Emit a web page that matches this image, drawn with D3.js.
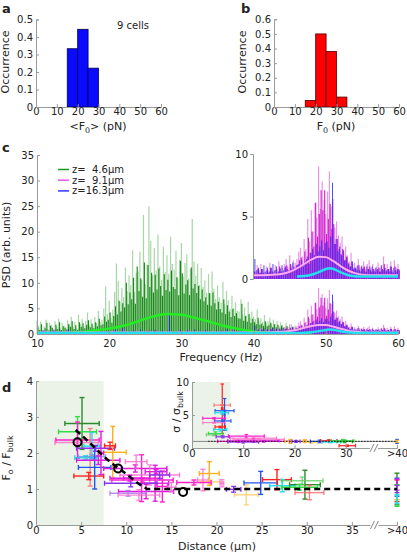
<!DOCTYPE html>
<html><head><meta charset="utf-8">
<script src="https://cdn.jsdelivr.net/npm/d3@7"></script>
<style>
html,body{margin:0;padding:0;background:#fff;}
text{font-family:"DejaVu Sans",Verdana,sans-serif;}
</style></head>
<body>
<svg id="chart" width="407" height="552"></svg>
<script>
// ================= DATA =================
// Panel a: histogram of <F0> over 9 cells
const histA_binStart = [15, 20, 25];
const histA_occurrence = [0.333, 0.444, 0.222];
// Panel b: histogram of F0
const histB_binStart = [15, 20, 25, 30];
const histB_occurrence = [0.045, 0.5, 0.38, 0.068];
const histBinWidth = 5;
const histXTicks = [0, 10, 20, 30, 40, 50, 60];
const histA_yTicks = [0, 0.1, 0.2, 0.3, 0.4, 0.5];
const histB_yTicks = [0, 0.1, 0.2, 0.3, 0.4, 0.5, 0.6];

// Panel c: power spectral densities
const psdLegend = ["z=\u00a0\u00a04.6\u00b5m", "z=\u00a0\u00a09.1\u00b5m", "z=16.3\u00b5m"];
const greenStartHz = 10, psdStepHz = 0.25;
const greenPsdLight = [
 2.6,1.2,2.4,0.8, 1.5,2.8,1.0,2.2, 1.8,0.9,2.5,1.4, 3.0,1.1,2.2,1.6, 1.3,2.7,1.9,3.3,
 1.4,2.4,1.1,3.8, 2.0,3.0,1.5,2.6, 4.2,1.8,2.9,1.6, 3.3,2.1,4.5,2.4, 2.8,5.0,9.3,3.9,
 6.5,3.2,4.8,8.2, 13.8,10.4,6.3,9.0, 7.2,13.0,8.4,11.5, 9.6,16.4,8.2,12.0, 12.3,16.1,10.5,23.3,
 9.8,13.6,25.0,18.2, 11.5,16.8,12.4,19.5, 13.2,10.6,17.0,12.1, 15.4,11.8,19.0,13.7, 12.6,16.3,10.9,14.5,
 17.8,11.2,13.9,15.6, 10.8,12.7,22.5,14.2, 11.4,13.8,9.6,12.9, 9.2,10.5,8.1,11.7, 7.9,12.2,8.8,6.9,
 9.5,7.2,6.1,10.2, 5.8,8.4,6.6,4.9, 7.5,5.1,6.2,4.6, 4.4,6.8,3.8,5.2, 3.6,6.3,3.2,4.4,
 3.4,2.9,4.8,2.6, 3.1,2.4,3.7,2.2, 2.5,3.2,2.0,2.8, 1.9,2.6,1.6,2.3, 1.8,1.4,2.2,1.5,
 1.3,1.9,1.1,1.6, 1.2,0.9,1.4,1.0, 0.9,1.1,0.8,0.7, 0.6];
const greenPsdDark = [
 1.5,0.8,1.9,0.6, 1.1,2.2,0.7,1.6, 1.2,0.6,1.8,1.0, 2.3,0.8,1.5,1.2, 0.9,1.9,1.4,2.5,
 1.0,1.7,0.8,2.3, 1.4,2.1,1.1,1.8, 2.7,1.3,2.0,1.1, 2.3,1.5,3.0,1.7, 1.9,3.4,2.4,2.8,
 4.2,2.2,3.5,5.4, 3.8,6.5,4.4,6.0, 5.2,10.0,5.8,8.1, 6.8,11.0,5.9,13.2, 8.4,10.9,7.3,14.0,
 7.0,13.5,9.2,12.0, 8.1,11.6,8.7,12.8, 9.4,7.5,11.7,8.6, 10.6,8.3,12.4,9.2, 8.8,11.1,7.6,14.3,
 11.9,7.9,9.7,10.5, 7.6,13.0,8.9,9.8, 8.0,9.4,6.8,8.7, 6.4,7.2,5.7,8.0, 5.5,8.1,6.0,4.8,
 6.3,4.9,4.2,6.8, 3.9,5.6,4.4,3.3, 4.9,3.5,4.1,3.1, 3.0,5.9,2.6,3.5, 2.4,3.9,2.2,3.0,
 2.3,1.9,3.2,1.8, 2.0,1.6,2.5,1.5, 1.7,2.2,1.3,1.9, 1.3,1.8,1.1,1.6, 1.2,0.9,1.5,1.0,
 0.9,1.3,0.7,1.1, 0.8,0.6,0.9,0.7, 0.6,0.7,0.5,0.5, 0.4];
const hiStartHz = 40;
const magentaPsdLight = [
 0.9,0.6,1.1,0.7, 1.2,0.8,0.6,1.0, 0.7,1.3,0.9,0.6, 1.1,0.8,1.4,0.9, 0.9,1.2,1.6,1.0,
 1.9,1.1,1.5,1.3, 1.6,2.2,2.5,1.8, 3.2,2.4,4.8,3.0, 5.5,3.8,6.1,4.9, 9.0,5.6,7.8,6.3,
 5.2,7.0,8.6,5.8, 6.4,4.1,4.6,3.5, 2.9,3.4,2.2,2.6, 1.9,1.4,2.1,1.2, 1.3,1.0,1.6,0.9,
 1.1,1.4,0.8,1.2, 1.5,0.9,1.2,0.8, 1.0,1.3,0.9,1.1, 1.8,0.9,1.2,0.8, 1.4,0.7,1.5,0.9, 1.2];
const magentaPsdDark = [
 0.6,0.4,0.8,0.5, 0.8,0.5,0.4,0.7, 0.5,0.9,0.6,0.4, 0.7,0.5,1.0,0.6, 0.6,0.9,1.1,0.7,
 1.2,0.8,1.0,0.9, 1.1,1.5,1.7,1.2, 2.2,1.6,3.3,2.1, 3.8,2.6,6.1,3.4, 5.2,7.1,5.5,7.1,
 3.6,4.8,6.0,4.0, 4.4,2.8,3.2,2.4, 2.0,2.4,1.5,1.8, 1.3,1.0,1.4,0.8, 0.9,0.7,1.1,0.6,
 0.8,1.0,0.6,0.8, 1.0,0.6,0.8,0.6, 0.7,0.9,0.6,0.8, 1.2,0.6,0.8,0.6, 1.0,0.5,1.0,0.6, 0.8];
const bluePsd = [
 1.6,0.7,0.9,0.5, 0.8,1.1,0.6,0.9, 0.6,0.9,1.2,0.7, 1.0,0.6,0.8,1.1, 0.7,1.0,0.8,0.6,
 0.9,1.3,0.7,1.1, 1.2,0.9,1.5,1.0, 1.4,1.8,1.2,2.1, 2.4,1.9,2.8,2.2, 2.6,3.1,2.3,2.9,
 3.0,2.5,3.4,7.7, 2.8,3.2,2.2,2.6, 1.9,2.3,1.5,1.7, 1.2,1.0,1.4,0.9, 0.8,1.1,0.7,1.0,
 0.9,0.6,1.0,0.8, 0.7,1.0,0.6,0.9, 0.8,0.6,1.1,0.7, 0.9,0.7,0.8,1.0, 0.6,0.9,0.7,0.8, 0.7];
const lowStartHz = 10, lowStepHz = 0.5;
const magentaPsdLow = [
 0.5,0.3,0.7,0.4,0.6,0.9,0.3,0.5,0.8,0.4, 0.6,0.3,0.7,0.5,0.9,0.4,0.6,0.3,0.8,0.5,
 0.4,0.7,0.3,0.6,1.0,0.5,0.4,0.8,0.3,0.6, 0.5,0.9,0.4,0.7,0.3,0.6,0.8,0.4,0.5,0.7,
 0.3,0.6,0.9,0.4,0.5,0.8,0.3,0.6,0.7,0.4, 0.5,0.8,0.6,0.4,0.9,0.5,0.7,0.4,0.6,0.8];
const bluePsdLow = [
 0.4,0.7,0.3,0.5,0.8,0.4,0.6,0.3,0.9,0.5, 0.4,0.6,0.8,0.3,0.5,0.7,0.4,0.9,0.5,0.6,
 0.3,0.8,0.5,1.5,0.4,0.6,0.7,0.3,0.9,0.5, 0.6,0.4,0.8,0.5,0.7,0.4,3.7,0.6,0.5,0.8,
 0.4,0.7,0.5,0.9,0.3,0.6,0.8,0.5,0.4,0.7, 0.6,0.5,0.9,0.4,0.7,0.5,0.6,0.8,0.4,0.6];
const greenFit = [[10,0.05],[12,0.1],[14,0.2],[16,0.4],[18,0.7],[20,1.05],[22,1.6],[24,2.5],[26,3.4],[28,3.9],[30,3.75],[32,3.1],[34,2.35],[36,1.55],[38,0.95],[40,0.5],[42,0.25],[44,0.12],[46,0.06],[48,0.03]];
const magentaFit = [[10,0.3],[40,0.3],[42,0.32],[44,0.42],[45,0.58],[46,0.85],[47,1.2],[48,1.55],[49,1.78],[50,1.75],[51,1.45],[52,1.05],[53,0.7],[54,0.47],[55,0.35],[56,0.31],[58,0.3],[60,0.3]];
const blueFit = [[10,0.2],[46,0.2],[47,0.24],[48,0.34],[49,0.55],[50,0.8],[50.5,0.87],[51,0.82],[52,0.55],[53,0.32],[54,0.22],[55,0.2],[60,0.2]];
const psdXTicks = [10, 20, 30, 40, 50, 60];
const psdYTicks = [0, 5, 10, 15, 20, 25, 30, 35];
const insetPsdYTicks = [0, 5, 10];

// Panel d: per-cell crosses [distance, value, distErr, valueErr, cellId]
const distTicks = [0, 5, 10, 15, 20, 25, 30, 35, 40];
const forceTicks = [0, 1, 2, 3, 4];
const sigmaDistTicks = [0, 10, 20, 30, 40];
const sigmaTicks = [0, 5, 10];
const proximalMaxDist = 7.5;
const forceCrosses = [
 [5.1,2.82,1.9,0.72,0],[4.6,2.59,2.1,0.42,1],[4.6,2.36,2.4,0.5,2],[4.5,2.29,2.4,0.06,9],
 [6.0,1.88,0.3,0.8,10],[5.85,1.36,1.65,0.1,4],[6.2,2.19,0.9,0.38,5],[5.5,1.87,1.2,0.05,5],
 [6.2,1.9,1.5,0.05,14],[6.5,1.6,1.8,0.6,6],[6.6,2.13,2.1,0.08,7],[6.9,1.8,2.4,0.12,3],
 [8.5,2.02,1.5,0.72,8],[8.2,2.2,0.6,0.1,4],[7.2,2.0,0.3,0.6,3],[11.0,1.57,3.5,0.1,3],
 [11.7,1.3,2.0,0.65,2],[12.6,1.39,3.3,0.28,9],[13.2,1.16,1.5,0.5,3],[10.5,1.16,2.9,0.1,7],
 [12.2,0.93,3.05,0.2,3],[14.0,1.07,0.6,0.43,2],[10.2,0.88,2.0,0.08,11],[11.4,0.83,2.3,0.15,9],
 [10.4,1.3,2.2,0.08,3],[15.0,1.05,0.5,0.13,9],[18.5,1.25,0.6,0.3,9],[11.1,1.76,1.2,0.18,9],
 [13.3,1.48,1.2,0.06,3],[13.7,1.39,1.1,0.1,7],[11.8,1.25,3.4,0.06,2],[19.2,1.43,1.1,0.33,8],
 [19.3,1.2,1.1,0.05,12],[17.5,1.18,1.9,0.07,2],[21.9,0.99,0.8,0.08,7],[20.6,1.16,0.2,0.1,9],
 [23.3,0.84,1.3,0.28,12],[24.9,1.17,1.85,0.32,6],[26.7,1.26,1.6,0.28,4],[27.3,1.09,1.4,0.17,5],
 [29.8,1.12,1.7,0.4,0],[29.5,1.23,2.3,0.1,13],[29.2,1.05,2.0,0.08,1],[30.3,0.9,1.6,0.2,10],
 [40,1.0,0,0.44,0],[40,0.95,0,0.3,4],[40,1.05,0,0.25,6],[40,0.9,0,0.2,8],
 [40,1.12,0,0.15,3],[40,0.82,0,0.3,1],[40,1.0,0,0.1,7],[40,0.72,0,0.12,5]];
const sigmaCrosses = [
 [5.9,5.95,0.15,3.75,4],[5.9,6.5,1.6,0.05,10],[6.35,5.1,0.1,2.4,6],[6.35,5.65,1.85,0.05,6],
 [5.8,5.35,1.3,0.2,5],[6.0,4.1,1.6,0.15,6],[4.3,4.5,2.2,0.1,2],[4.3,3.85,2.2,0.1,9],
 [5.5,2.8,1.3,0.25,5],[5.5,3.2,1.0,0.1,4],[4.6,2.2,1.4,0.25,1],[4.2,2.0,1.4,0.15,13],
 [6.0,1.7,1.3,0.15,7],[10.6,1.8,3.5,0.25,2],[12.0,1.5,4.5,0.15,9],[12.0,1.1,5.0,0.25,3],
 [9.0,1.0,4.0,0.15,2],[10.0,0.9,3.0,0.15,7],[14.0,1.0,5.0,0.12,3],[13.0,1.3,5.0,0.15,9],
 [19.2,1.0,1.1,0.3,8],[20.3,1.0,0.8,0.15,7],[22.0,1.05,0.3,0.2,8],[23.3,0.85,1.2,0.2,12],
 [24.9,1.0,1.8,0.2,6],[26.7,1.1,1.6,0.15,4],[27.2,0.9,1.8,0.1,5],[29.8,1.0,1.5,0.2,0],
 [29.4,1.1,2.2,0.2,1],[30.3,0.35,1.6,0.1,4],[40,1.0,0,0.3,6],[40,1.0,0,0.15,8]];
const meanDist = [4.6, 9.1, 16.3];
const meanForce = [2.3, 1.57, 0.92];
const trendDist = [4.4, 5.8, 6.7, 7.8, 9.0, 10.2, 11.4, 12.3, 40];
const trendForce = [2.64, 2.32, 2.1, 1.84, 1.6, 1.38, 1.14, 1.0, 1.0];

// ================= STYLES =================
const cellColors = ["#2d8a2d","#33dd44","#ff22cc","#e01ee0","#ff2222","#22ddee","#2255ee","#8833ee","#ffb020","#ff66cc","#ff6666","#aa77ee","#ffcc66","#66cc66","#6699ee"];
const cellOpacity = [1,1,1,1,1,1,1,1,1,0.8,0.8,0.8,0.85,0.8,0.8];
const FONT = "DejaVu Sans, Verdana, sans-serif";
const AX = "#9a9a9a";

// ================= DRAW =================
const svg = d3.select("#chart");
svg.append("rect").attr("width",407).attr("height",552).attr("fill","#fff");

function styleAxis(g){
  g.attr("font-family", FONT).attr("font-size", 10);
  g.select(".domain").attr("stroke", AX);
  g.selectAll(".tick line").attr("stroke", AX);
  g.selectAll(".tick text").attr("fill", "#222");
  return g;
}
function label(x, y, parts, o){
  o = o || {};
  const size = o.size || 11;
  const t = svg.append("text").attr("x", x).attr("y", y).attr("font-size", size)
    .attr("text-anchor", o.anchor || "middle").attr("fill", "#222").attr("font-family", FONT);
  if (o.rotate) t.attr("transform", `rotate(-90,${x},${y})`);
  if (o.bold) t.attr("font-weight", "bold");
  let shifted = false;
  parts.forEach(p => {
    const s = t.append("tspan");
    if (typeof p === "string") { s.text(p); if (shifted) { s.attr("dy", -2.5); shifted = false; } }
    else { s.text(p.sub).attr("font-size", size * 0.72).attr("dy", 2.5); shifted = true; }
  });
  return t;
}
const fmtTick = d => d === 0 ? "0" : (Number.isInteger(d) ? String(d) : d3.format(".1f")(d));

// ---------- histograms ----------
function histogram(starts, vals, yMax, yTicks, xr, yr, fill, stroke){
  const x = d3.scaleLinear([0, 60], xr), y = d3.scaleLinear([0, yMax], yr);
  svg.append("g").selectAll("rect").data(starts).join("rect")
    .attr("x", d => x(d)).attr("width", d => x(d + histBinWidth) - x(d))
    .attr("y", (d, i) => y(vals[i])).attr("height", (d, i) => y(0) - y(vals[i]))
    .attr("fill", fill).attr("stroke", stroke).attr("stroke-width", 0.8);
  styleAxis(svg.append("g").attr("transform", `translate(0,${yr[0]})`)
    .call(d3.axisBottom(x).tickValues(histXTicks).tickSize(-3).tickPadding(1).tickFormat(fmtTick)));
  styleAxis(svg.append("g").attr("transform", `translate(${xr[0]},0)`)
    .call(d3.axisLeft(y).tickValues(yTicks).tickSize(-3).tickPadding(3).tickFormat(fmtTick)));
}
histogram(histA_binStart, histA_occurrence, 0.5, histA_yTicks, [36,161], [107,19.5], "#0a0aff", "#000050");
histogram(histB_binStart, histB_occurrence, 0.6, histB_yTicks, [274,399], [107,19.3], "#ff0000", "#500000");
label(9, 62, ["Occurrence"], {rotate:true});
label(246, 62, ["Occurrence"], {rotate:true});
label(98, 130, ["<F", {sub:"0"}, "> (pN)"]);
label(336, 130, ["F", {sub:"0"}, " (pN)"]);
label(117, 29, ["9 cells"], {anchor:"start", size:10});
label(2, 13, ["a"], {anchor:"start", bold:true, size:13});
label(241, 13, ["b"], {anchor:"start", bold:true, size:13});

// ---------- panel c ----------
const xc = d3.scaleLinear([10, 60], [37, 398]);
const yc = d3.scaleLinear([0, 35], [334, 155]);
const yIn = d3.scaleLinear([0, 10], [279, 154]);

function spikes(g, vals, start, step, offset, y, color, op, w){
  g.append("g").selectAll("line").data(vals).join("line")
    .attr("x1", (d, i) => xc(start + i * step + offset)).attr("x2", (d, i) => xc(start + i * step + offset))
    .attr("y1", y(0)).attr("y2", d => y(d))
    .attr("stroke", color).attr("stroke-opacity", op).attr("stroke-width", w);
}
function fitLine(g, pts, y, color, w){
  g.append("path").datum(pts)
    .attr("d", d3.line().x(d => xc(d[0])).y(d => y(d[1])).curve(d3.curveMonotoneX))
    .attr("fill", "none").attr("stroke", color).attr("stroke-width", w);
}
const gc = svg.append("g");
spikes(gc, greenPsdLight, greenStartHz, psdStepHz, 0, yc, "#3aa53a", 0.45, 1.2);
spikes(gc, greenPsdDark, greenStartHz, psdStepHz, 0.125, yc, "#0a820a", 0.95, 1.1);
spikes(gc, magentaPsdLow, lowStartHz, lowStepHz, 0.1, yc, "#cc22cc", 0.9, 1.0);
spikes(gc, bluePsdLow, lowStartHz, lowStepHz, 0.35, yc, "#2222ee", 0.9, 1.0);
spikes(gc, magentaPsdLight, hiStartHz, psdStepHz, 0, yc, "#e070e0", 0.75, 1.2);
spikes(gc, magentaPsdDark, hiStartHz, psdStepHz, 0.1, yc, "#cc00cc", 0.9, 1.1);
spikes(gc, bluePsd, hiStartHz, psdStepHz, 0.18, yc, "#2020ee", 0.8, 1.0);
fitLine(gc, greenFit, yc, "#22ee22", 2.5);
fitLine(gc, magentaFit, yc, "#ffaaee", 2);
fitLine(gc, blueFit, yc, "#22e0f0", 2.5);
styleAxis(svg.append("g").attr("transform", "translate(0,334)")
  .call(d3.axisBottom(xc).tickValues(psdXTicks).tickSize(-3).tickPadding(6)));
styleAxis(svg.append("g").attr("transform", "translate(37,0)")
  .call(d3.axisLeft(yc).tickValues(psdYTicks).tickSize(-3).tickPadding(3)));
// inset of panel c (40-60 Hz zoom)
const gi = svg.append("g");
spikes(gi, magentaPsdLight, hiStartHz, psdStepHz, 0, yIn, "#e070e0", 0.75, 1.2);
spikes(gi, magentaPsdDark, hiStartHz, psdStepHz, 0.1, yIn, "#cc00cc", 0.9, 1.1);
spikes(gi, bluePsd, hiStartHz, psdStepHz, 0.18, yIn, "#2020ee", 0.8, 1.0);
fitLine(gi, magentaFit.filter(d => d[0] >= 40), yIn, "#ffaaee", 2);
fitLine(gi, blueFit.filter(d => d[0] >= 40), yIn, "#22e0f0", 2.5);
styleAxis(svg.append("g").attr("transform", "translate(253,0)")
  .call(d3.axisLeft(yIn).tickValues(insetPsdYTicks).tickSize(3).tickPadding(2)));
// legend
const legColors = ["#1a9a1a", "#ee55ee", "#3333ff"];
psdLegend.forEach((t, i) => {
  const yy = 169.5 + i * 10.7;
  svg.append("line").attr("x1", 58).attr("x2", 69).attr("y1", yy).attr("y2", yy).attr("stroke", legColors[i]).attr("stroke-width", 1.5);
  label(72, yy + 3.5, [t], {anchor:"start", size:10});
});
label(221, 361, ["Frequency (Hz)"]);
label(10, 245, ["PSD (arb. units)"], {rotate:true});
label(2, 152, ["c"], {anchor:"start", bold:true, size:13});

// ---------- panel d ----------
const xd = d3.scaleLinear([0, 40], [36, 397]);
const yd = d3.scaleLinear([0, 4], [525, 381]);
svg.append("rect").attr("x", xd(0)).attr("y", yd(4)).attr("width", xd(proximalMaxDist) - xd(0)).attr("height", yd(0) - yd(4)).attr("fill", "#ebf3e8");

function crosses(g, data, x, y, cap, sw){
  data.forEach(([cx, cy, xe, ye, c]) => {
    const gg = g.append("g").attr("stroke", cellColors[c]).attr("stroke-opacity", cellOpacity[c]).attr("stroke-width", sw);
    if (xe > 0) {
      gg.append("line").attr("x1", x(cx - xe)).attr("x2", x(cx + xe)).attr("y1", y(cy)).attr("y2", y(cy));
      [cx - xe, cx + xe].forEach(v => gg.append("line").attr("x1", x(v)).attr("x2", x(v)).attr("y1", y(cy) - cap).attr("y2", y(cy) + cap));
    }
    if (ye > 0) {
      gg.append("line").attr("x1", x(cx)).attr("x2", x(cx)).attr("y1", y(cy - ye)).attr("y2", y(cy + ye));
      [cy - ye, cy + ye].forEach(v => gg.append("line").attr("x1", x(cx) - cap).attr("x2", x(cx) + cap).attr("y1", y(v)).attr("y2", y(v)));
    }
  });
}
const gd = svg.append("g");
crosses(gd, forceCrosses, xd, yd, 2.5, 1.4);
gd.append("path").datum(d3.zip(trendDist, trendForce))
  .attr("d", d3.line().x(d => xd(d[0])).y(d => yd(d[1])))
  .attr("fill", "none").attr("stroke", "#000").attr("stroke-width", 2.5).attr("stroke-dasharray", "6,4");
gd.selectAll("circle").data(meanDist).join("circle")
  .attr("cx", d => xd(d)).attr("cy", (d, i) => yd(meanForce[i])).attr("r", 4)
  .attr("fill", "none").attr("stroke", "#000").attr("stroke-width", 2);
styleAxis(svg.append("g").attr("transform", "translate(0,525)")
  .call(d3.axisBottom(xd).tickValues(distTicks).tickSize(-3).tickPadding(2).tickFormat(d => d === 40 ? ">40" : d)));
styleAxis(svg.append("g").attr("transform", "translate(36,0)")
  .call(d3.axisLeft(yd).tickValues(forceTicks).tickSize(-3).tickPadding(3).tickFormat(d3.format("d"))));
function breakMark(cx, cy){
  svg.append("rect").attr("x", cx - 4).attr("y", cy - 2).attr("width", 8).attr("height", 4).attr("fill", "#fff");
  [-2, 2].forEach(o => svg.append("line").attr("x1", cx + o - 2).attr("x2", cx + o + 2).attr("y1", cy + 4).attr("y2", cy - 4).attr("stroke", "#777").attr("stroke-width", 0.9));
}
breakMark(xd(37.5), 525);
label(217, 550, ["Distance (\u00b5m)"]);
label(10, 458, ["F", {sub:"o"}, " / F", {sub:"bulk"}], {rotate:true});
label(2, 392, ["d"], {anchor:"start", bold:true, size:13});

// inset of panel d
const xs = d3.scaleLinear([0, 40], [192, 397]);
const ys = d3.scaleLinear([0, 10], [448, 382]);
svg.append("rect").attr("x", 192).attr("y", 380).attr("width", 215).attr("height", 68).attr("fill", "#fff");
svg.append("rect").attr("x", xs(0)).attr("y", ys(10)).attr("width", xs(proximalMaxDist) - xs(0)).attr("height", ys(0) - ys(10)).attr("fill", "#ebf3e8");
const gs = svg.append("g");
gs.append("line").attr("x1", xs(0)).attr("x2", xs(40)).attr("y1", ys(1)).attr("y2", ys(1)).attr("stroke", "#888").attr("stroke-width", 1);
crosses(gs, sigmaCrosses, xs, ys, 1.8, 1.2);
gs.append("line").attr("x1", xs(3.2)).attr("x2", xs(40)).attr("y1", ys(1)).attr("y2", ys(1)).attr("stroke", "#000").attr("stroke-width", 1.2).attr("stroke-dasharray", "1,2");
styleAxis(svg.append("g").attr("transform", "translate(0,448)")
  .call(d3.axisBottom(xs).tickValues(sigmaDistTicks).tickSize(-3).tickPadding(2).tickFormat(d => d === 40 ? ">40" : d)));
styleAxis(svg.append("g").attr("transform", "translate(192,0)")
  .call(d3.axisLeft(ys).tickValues(sigmaTicks).tickSize(-3).tickPadding(3)));
breakMark(xs(35.5), 448);
label(180, 412, ["\u03c3 / \u03c3", {sub:"bulk"}], {rotate:true});
</script>
</body></html>
